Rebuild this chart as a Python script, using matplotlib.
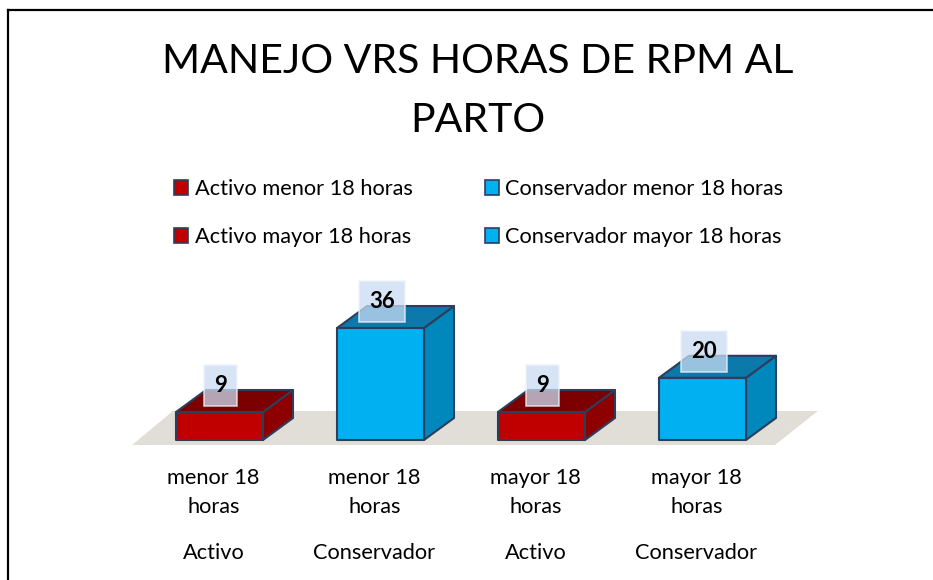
import matplotlib
matplotlib.use("Agg")
import matplotlib.pyplot as plt
from matplotlib.patches import Polygon, Patch
from matplotlib.lines import Line2D

plt.rcParams['font.family'] = ['Lato', 'DejaVu Sans']

# datos
manejo = ['Activo', 'Conservador', 'Activo', 'Conservador']
horas = ['menor 18\nhoras', 'menor 18\nhoras', 'mayor 18\nhoras', 'mayor 18\nhoras']
valores = [9, 36, 9, 20]
series = ['Activo menor 18 horas', 'Activo mayor 18 horas',
          'Conservador menor 18 horas', 'Conservador mayor 18 horas']

rojo = ('#c00000', '#7c0000', '#8e0000')
azul = ('#00b0f0', '#0b79a9', '#0087bb')
colores = [rojo, azul, rojo, azul]
borde = '#2d3e5c'

W, H = 933, 580
fig = plt.figure(figsize=(W / 100, H / 100), dpi=100)
ax = fig.add_axes([139 / W, (H - 440) / H, 644 / W, 149.3 / H])
ax.set_xlim(-0.5, 3.5)
ax.set_ylim(0, 48)
ax.axis('off')

# pixel -> datos
px_x = 4.0 / 644
px_y = 48 / 149.3
dx, dy = 30 * px_x, 22 * px_y
ancho = 87 * px_x

# piso
piso = Polygon([(-0.543, -5 * px_y), (3.45, -5 * px_y),
                (3.717, 29 * px_y), (-0.289, 29 * px_y)],
               closed=True, facecolor='#e1ded7', edgecolor='none',
               clip_on=False, zorder=1)
ax.add_patch(piso)

for i, v in enumerate(valores):
    x0, x1 = i - ancho / 2, i + ancho / 2
    frente, arriba, lado = colores[i]
    kw = dict(closed=True, edgecolor=borde, linewidth=1.5,
              clip_on=False, joinstyle='round', zorder=3)
    ax.add_patch(Polygon([(x1, 0), (x1 + dx, dy), (x1 + dx, v + dy), (x1, v)],
                         facecolor=lado, **kw))
    ax.add_patch(Polygon([(x0, v), (x1, v), (x1 + dx, v + dy), (x0 + dx, v + dy)],
                         facecolor=arriba, **kw))
    ax.add_patch(Polygon([(x0, 0), (x1, 0), (x1, v), (x0, v)],
                         facecolor=frente, **kw))
    ax.annotate(str(v), xy=(i, v), xytext=(1, 19), textcoords='offset points',
                ha='center', va='center', fontsize=16, fontweight='bold',
                color='black', zorder=5, annotation_clip=False,
                bbox=dict(boxstyle='square,pad=0.45', facecolor='#c9dcf2',
                          edgecolor='#eef4fb', linewidth=1.2, alpha=0.75))

    ax.annotate(horas[i], xy=(i - 6 * px_x, 0), xytext=(0, -20),
                textcoords='offset points', ha='center', va='top',
                fontsize=15.7, linespacing=1.55, annotation_clip=False)
    ax.annotate(manejo[i], xy=(i - 6 * px_x, 0), xytext=(0, -81.5),
                textcoords='offset points', ha='center', va='center',
                fontsize=15.7, annotation_clip=False)

fig.text(478 / W, 1 - 91 / H, 'MANEJO VRS HORAS DE RPM AL\nPARTO',
         ha='center', va='center', fontsize=29.5, linespacing=1.75)

handles = [Patch(facecolor=colores[0][0], edgecolor=borde, linewidth=1.2),
           Patch(facecolor=colores[2][0], edgecolor=borde, linewidth=1.2),
           Patch(facecolor=colores[1][0], edgecolor=borde, linewidth=1.2),
           Patch(facecolor=colores[3][0], edgecolor=borde, linewidth=1.2)]
fig.legend(handles, series, loc='upper left',
           bbox_to_anchor=(174 / W, 1 - 179 / H), ncol=2, frameon=False,
           fontsize=15.7, handlelength=0.65, handleheight=0.65, handletextpad=0.3,
           labelspacing=1.3, columnspacing=3.3, borderpad=0, borderaxespad=0)

fig.add_artist(Line2D([8 / W, 8 / W], [0, 1 - 10 / H], color='black', lw=1.6))
fig.add_artist(Line2D([8 / W, 1], [1 - 10 / H, 1 - 10 / H], color='black', lw=1.6))

fig.savefig('out.png', dpi=100)
